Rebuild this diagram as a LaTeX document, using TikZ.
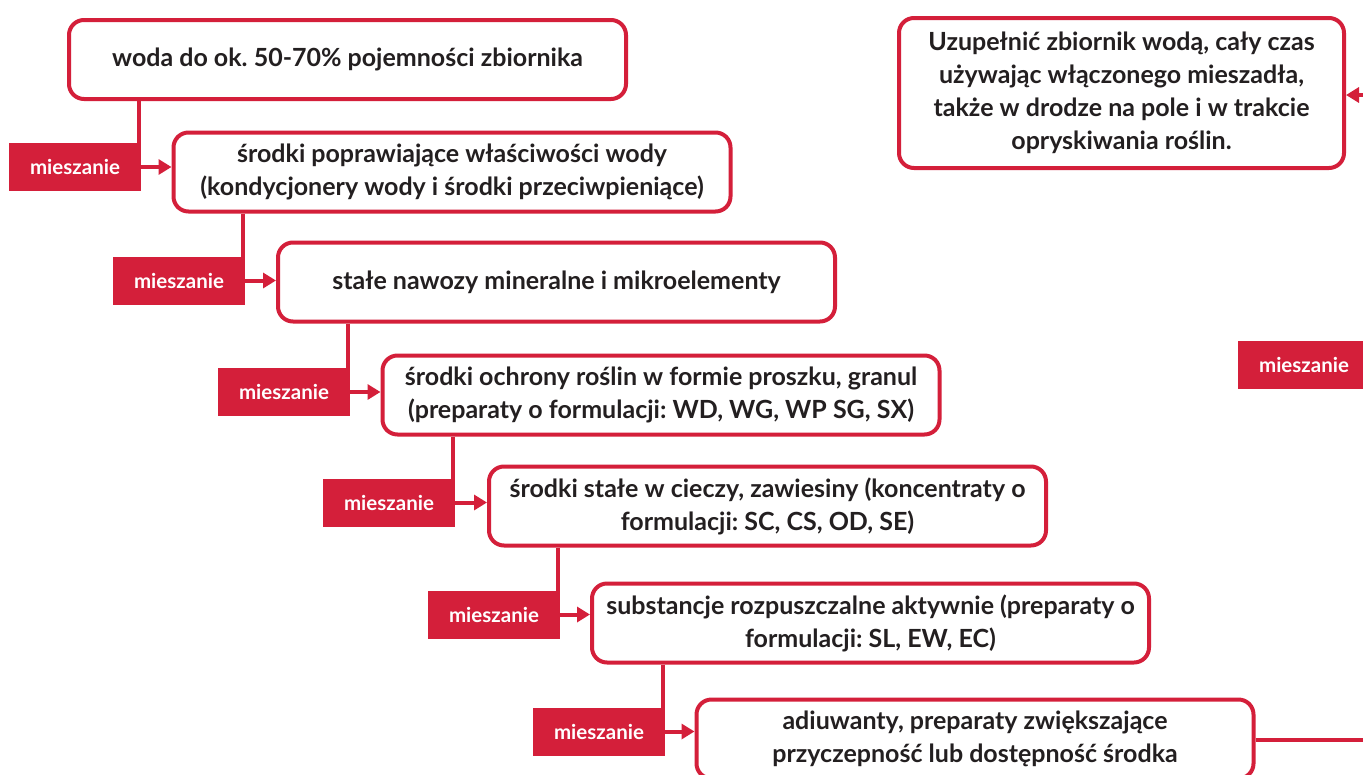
\documentclass[tikz,border=0pt]{standalone}
\usepackage{fontspec}
\setmainfont{Lato}
\usepackage{tikz}
\usetikzlibrary{arrows.meta,positioning,calc}
\definecolor{mixRed}{HTML}{D41F3A}
\definecolor{mixInk}{HTML}{231F20}
\frenchspacing

\begin{document}
\begin{tikzpicture}[
  x=1pt,y=-1pt,
  font=\fontsize{25}{33}\selectfont\bfseries,
  stage/.style={draw=mixRed,line width=4pt,rounded corners=15pt,fill=white,
                minimum width=557pt,minimum height=79pt,inner sep=0pt,
                align=center,text=mixInk},
  mixlbl/.style={fill=mixRed,text=white,minimum width=132pt,minimum height=48pt,
                 inner sep=0pt,font=\fontsize{20.5}{24}\selectfont\bfseries},
  arr/.style={draw=mixRed,line width=4pt,-{Triangle[length=13pt,width=15pt]}}
]
\clip (0,0) rectangle (1363,774);
\fill[white] (0,0) rectangle (1363,774);

% boxes
\node[stage] (b1) at (347.5,59.5) {woda do ok. 50-70\% pojemności zbiornika};
\node[stage] (b2) at (452,172) {środki poprawiające właściwości wody\\(kondycjonery wody i środki przeciwpieniące)};
\node[stage] (b3) at (556.5,282) {stałe nawozy mineralne i mikroelementy};
\node[stage] (b4) at (661,395) {środki ochrony roślin w formie proszku, granul\\(preparaty o formulacji: WD, WG, WP SG, SX)};
\node[stage] (b5) at (767.5,506) {środki stałe w cieczy, zawiesiny (koncentraty o\\formulacji: SC, CS, OD, SE)};
\node[stage] (b6) at (870.5,623) {substancje rozpuszczalne aktywnie (preparaty o\\formulacji: SL, EW, EC)};
\node[stage] (b7) at (975,739) {adiuwanty, preparaty zwiększające\\przyczepność lub dostępność środka};
\node[stage,minimum width=445pt,minimum height=150pt] (fill) at (1121.5,93)
  {Uzupełnić zbiornik wodą, cały czas\\używając włączonego mieszadła,\\także w drodze na pole i w trakcie\\opryskiwania roślin.};

% mixing labels
\node[mixlbl] (m1) at (75,167) {mieszanie};
\node[mixlbl] (m2) at (179,280.5) {mieszanie};
\node[mixlbl] (m3) at (284,392) {mieszanie};
\node[mixlbl] (m4) at (389,502.5) {mieszanie};
\node[mixlbl] (m5) at (494,614.5) {mieszanie};
\node[mixlbl] (m6) at (599,731.5) {mieszanie};
\coordinate (r1) at (1369,740);
\coordinate (r2) at (1369,95);

% connectors
\draw[arr] ([xshift=-2pt]m1.east |- b1.south) |- (m1.east -| b2.west);
\draw[arr] ([xshift=-2pt]m2.east |- b2.south) |- (m2.east -| b3.west);
\draw[arr] ([xshift=-2pt]m3.east |- b3.south) |- (m3.east -| b4.west);
\draw[arr] ([xshift=-2pt]m4.east |- b4.south) |- (m4.east -| b5.west);
\draw[arr] ([xshift=-2pt]m5.east |- b5.south) |- (m5.east -| b6.west);
\draw[arr] ([xshift=-2pt]m6.east |- b6.south) |- (m6.east -| b7.west);
\draw[arr] (b7.east |- r1) -- (r1) -- (r2) -- (r2 -| fill.east);
\node[mixlbl] (m7) at (1304,365) {mieszanie};
\end{tikzpicture}
\end{document}
